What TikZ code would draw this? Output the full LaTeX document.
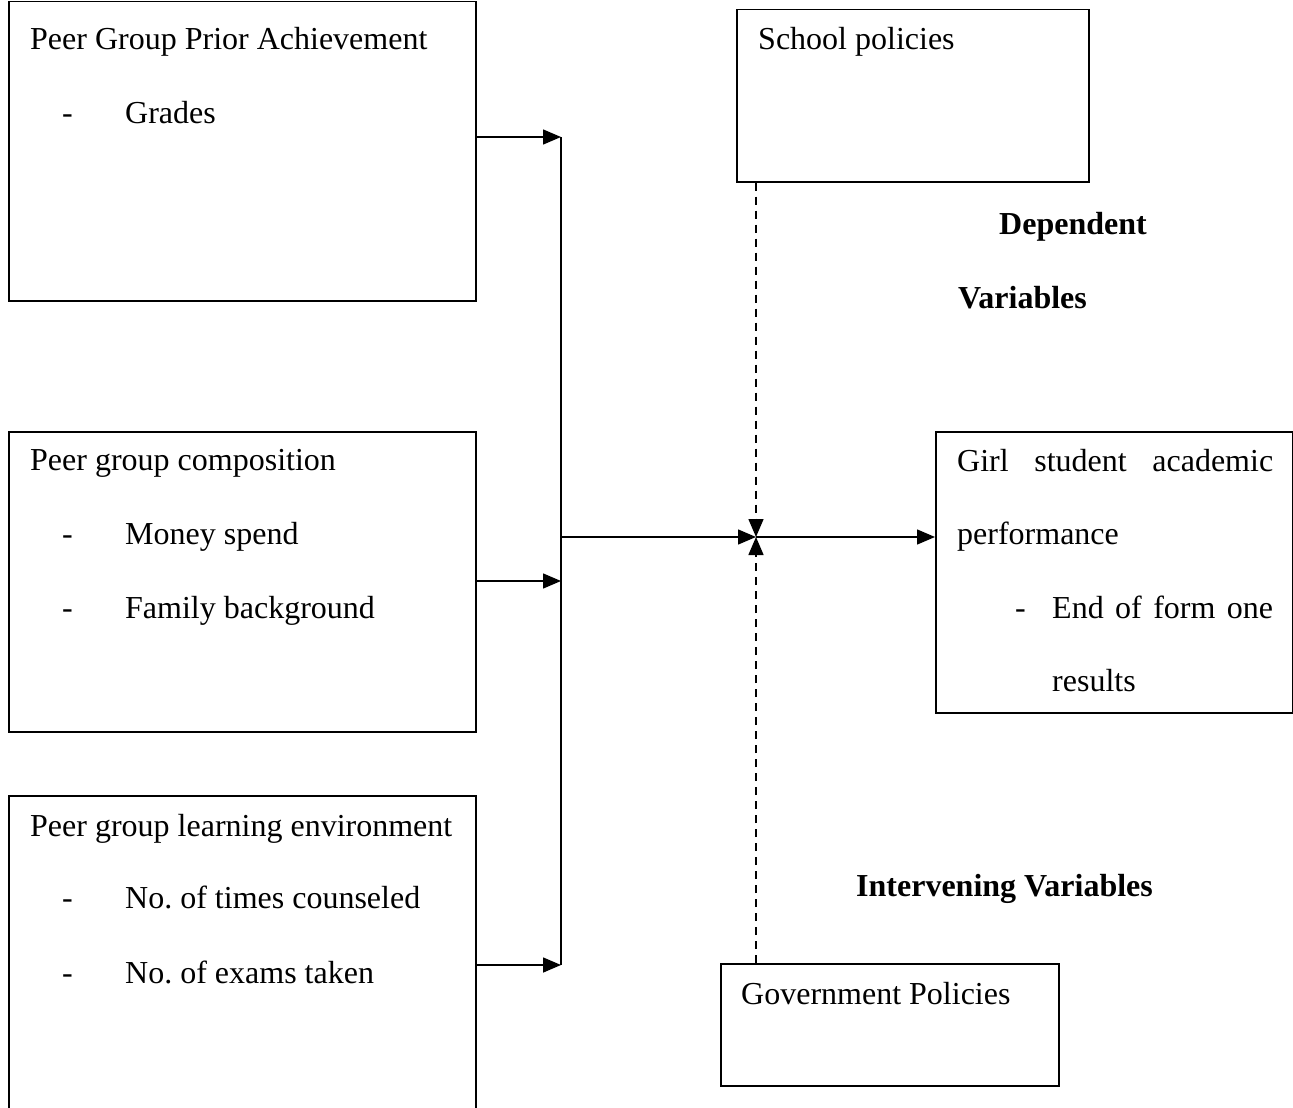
\documentclass[tikz,border=0pt]{standalone}
\usepackage{fontspec}
\setmainfont{Liberation Serif}
\usetikzlibrary{arrows.meta}
\frenchspacing
\begin{document}
\begin{tikzpicture}[x=1pt,y=-1pt,
  box/.style={draw,line width=1.5pt,rectangle,inner sep=0pt,anchor=north west},
  txt/.style={anchor=base west,inner sep=0pt,font=\fontsize{32}{38}\selectfont},
  btxt/.style={txt,font=\fontsize{32}{38}\selectfont\bfseries},
  conn/.style={line width=1.5pt,-{Triangle[length=18pt,width=15pt]}},
  dconn/.style={conn,dash pattern=on 8pt off 6pt}]
\useasboundingbox (0,0) rectangle (1293,1108);
% boxes
\node[box,minimum width=467pt,minimum height=299pt] (b1) at (8,1) {};
\node[box,minimum width=467pt,minimum height=300pt] (b2) at (8,431) {};
\node[box,minimum width=467pt,minimum height=340pt] (b3) at (8,795) {};
\node[box,minimum width=352pt,minimum height=172pt] (sp) at (736,9) {};
\node[box,minimum width=357pt,minimum height=281pt] (gs) at (935,431) {};
\node[box,minimum width=338pt,minimum height=122pt] (gp) at (720,963) {};
% texts
\node[txt] (t1) at (30,50) {Peer Group Prior Achievement};
\node[txt] (t1a) at (62,123) {-};
\node[txt] (t1b) at (125,123) {Grades};
\node[txt] (t2) at (30,470) {Peer group composition};
\node[txt] (t2a) at (62,544) {-};
\node[txt] (t2b) at (125,544) {Money spend};
\node[txt] (t2c) at (62,618) {-};
\node[txt] (t2d) at (125,618) {Family background};
\node[txt] (t3) at (30,836) {Peer group learning environment};
\node[txt] (t3a) at (62,908) {-};
\node[txt] (t3b) at (125,908) {No. of times counseled};
\node[txt] (t3c) at (62,983) {-};
\node[txt] (t3d) at (125,983) {No. of exams taken};
\node[txt] (ts) at (758,50) {School policies};
\node[btxt] (dv1) at (999,234) {Dependent};
\node[btxt] (dv2) at (958,308) {Variables};
\node[btxt] (iv) at (856,896) {Intervening Variables};
\node[txt] (g1) at (957,471) {\makebox[316pt][s]{Girl student academic}};
\node[txt] (g2) at (957,544) {performance};
\node[txt] (g3) at (1015,618) {-};
\node[txt] (g4) at (1052,618) {\makebox[221pt][s]{End of form one}};
\node[txt] (g5) at (1052,691) {results};
\node[txt] (tg) at (741,1004) {Government Policies};
% connectors
\coordinate (j1) at (561,137);
\coordinate (j2) at (561,581);
\coordinate (j3) at (561,965);
\coordinate (jm) at (561,537);
\coordinate (hub) at (756,537);
\draw[line width=1.5pt] (j1) -- (j3);
\draw[conn] (b1.east |- j1) -- (j1);
\draw[conn] (b2.east |- j2) -- (j2);
\draw[conn] (b3.east |- j3) -- (j3);
\draw[conn] (jm) -- (hub);
\draw[conn] (hub) -- (gs.west |- hub);
\draw[dconn] (sp.south -| hub) -- (hub);
\draw[dconn] (gp.north -| hub) -- (hub);
\end{tikzpicture}
\end{document}
